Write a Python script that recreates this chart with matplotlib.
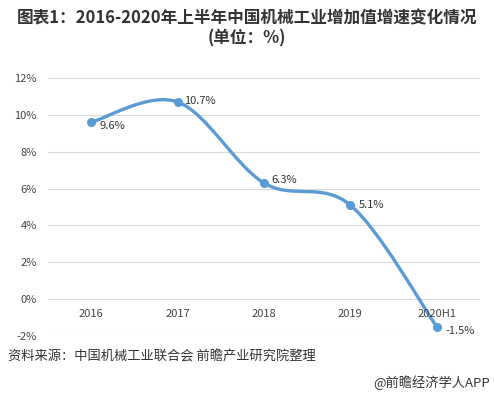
import numpy as np
import matplotlib
matplotlib.use("Agg")
import matplotlib.pyplot as plt
from matplotlib.path import Path
from matplotlib.patches import PathPatch

plt.rcParams['font.family'] = ['Noto Sans CJK SC', 'DejaVu Sans']

categories = ["2016", "2017", "2018", "2019", "2020H1"]
values = [9.6, 10.7, 6.3, 5.1, -1.5]
value_labels = ["9.6%", "10.7%", "6.3%", "5.1%", "-1.5%"]
yticks = [-2, 0, 2, 4, 6, 8, 10, 12]

color = "#5B9BD5"

fig = plt.figure(figsize=(4.94, 3.97), dpi=100)
W, H = 494, 397
ax = fig.add_axes([48 / W, 1 - 336 / H, (480 - 48) / W, (336 - 78) / H])
ax.set_xlim(-0.5, len(categories) - 0.5)
ax.set_ylim(-2, 12)

x = np.arange(len(categories), dtype=float)
y = np.array(values, dtype=float)

# Catmull-Rom smooth curve (Excel-like) as cubic Bezier
verts = [(x[0], y[0])]
codes = [Path.MOVETO]
n = len(x)
for i in range(n - 1):
    p0 = np.array([x[max(i - 1, 0)], y[max(i - 1, 0)]])
    p1 = np.array([x[i], y[i]])
    p2 = np.array([x[i + 1], y[i + 1]])
    p3 = np.array([x[min(i + 2, n - 1)], y[min(i + 2, n - 1)]])
    c1 = p1 + (p2 - p0) / 6.0
    c2 = p2 - (p3 - p1) / 6.0
    verts += [tuple(c1), tuple(c2), tuple(p2)]
    codes += [Path.CURVE4] * 3
path = Path(verts, codes)
ax.add_patch(PathPatch(path, facecolor='none', edgecolor=color, lw=2.4,
                       capstyle='round', joinstyle='round', zorder=3))
ax.plot(x, y, 'o', color=color, ms=5.5, zorder=4)

offsets = [(6, -3), (5, 1), (5, 2), (6, 0), (6, -3)]
for xi, yi, lab, off in zip(x, y, value_labels, offsets):
    ax.annotate(lab, (xi, yi), xytext=off, textcoords='offset points',
                ha='left', va='center', fontsize=8, color='#333333', zorder=5)

ax.set_yticks(yticks)
ax.set_yticklabels([f"{t}%" for t in yticks], fontsize=8, color='#444444')
ax.yaxis.grid(True, color='#d9d9d9', lw=0.8)
ax.set_xticks([])
ax.tick_params(axis='y', length=0, pad=8)
for s in ax.spines.values():
    s.set_visible(False)
ax.set_axisbelow(True)

for xi, c in zip(x, categories):
    ax.annotate(c, (xi, 0), xytext=(0, -11), textcoords='offset points',
                ha='center', va='center', fontsize=8, color='#444444')

fig.text(0.5, 1 - 18 / H, "图表1：2016-2020年上半年中国机械工业增加值增速变化情况",
         ha='center', va='center', fontsize=12, fontweight='bold', color='#333333')
fig.text(0.5, 1 - 38 / H, "(单位：%)",
         ha='center', va='center', fontsize=12, fontweight='bold', color='#333333')
fig.text(8 / W, 1 - 357 / H, "资料来源：中国机械工业联合会 前瞻产业研究院整理",
         ha='left', va='center', fontsize=9.5, color='#333333')
fig.text(490 / W, 1 - 383 / H, "@前瞻经济学人APP",
         ha='right', va='center', fontsize=9.5, color='#333333')

fig.savefig("out.png", dpi=100)
